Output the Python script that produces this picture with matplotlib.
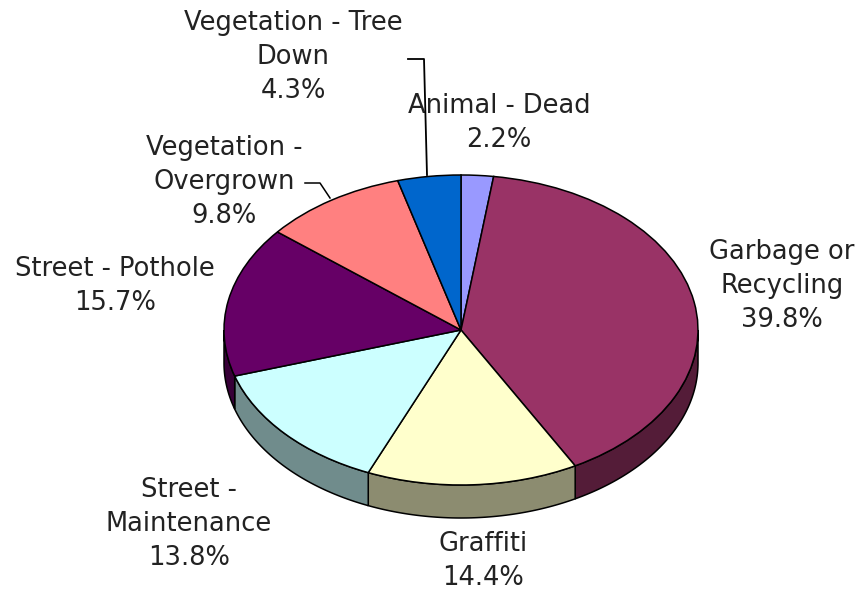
import numpy as np
import matplotlib
matplotlib.use("Agg")
import matplotlib.pyplot as plt
from matplotlib.patches import Polygon
from matplotlib.transforms import Affine2D
from matplotlib.colors import to_rgb

# ---- data ----
categories = ["Animal - Dead", "Garbage or\nRecycling", "Graffiti", "Street -\nMaintenance",
              "Street - Pothole", "Vegetation -\nOvergrown", "Vegetation - Tree\nDown"]
values = [2.2, 39.8, 14.4, 13.8, 15.7, 9.8, 4.3]
pct_labels = ["2.2%", "39.8%", "14.4%", "13.8%", "15.7%", "9.8%", "4.3%"]
colors = ["#9999FF", "#993366", "#FFFFCC", "#CCFFFF", "#660066", "#FF8080", "#0066CC"]

# ---- layout (pixel-like coordinates) ----
W, H = 860, 590
cx, cy = 461, 330
rx, ry = 237, 155
depth = 33
label_pos = [(499, 123), (782, 286), (483, 561), (189, 524), (115, 286), (224, 182), (293, 57)]
text_color = "#222222"

fig = plt.figure(figsize=(W / 100, H / 100), dpi=100)
ax = fig.add_axes([0, 0, 1, 1])

wedges, _ = ax.pie(values, startangle=90, counterclock=False, colors=colors,
                   wedgeprops=dict(edgecolor="black", linewidth=1.1))
ax.set_xlim(0, W)
ax.set_ylim(H, 0)
ax.set_aspect("auto")
ax.axis("off")

ell = Affine2D().scale(rx, -ry).translate(cx, cy) + ax.transData
for w in wedges:
    w.set_transform(ell)
    w.set_zorder(3)

# side walls (front half only)
for w, col in zip(wedges, colors):
    t1, t2 = w.theta1, w.theta2
    shade = tuple(c * 0.55 for c in to_rgb(col))
    for k in (-1, 0, 1):
        lo = max(t1, 180 + 360 * k)
        hi = min(t2, 360 + 360 * k)
        if hi - lo <= 0.01:
            continue
        t = np.radians(np.linspace(lo, hi, 80))
        xs = cx + rx * np.cos(t)
        ys = cy - ry * np.sin(t)
        pts = np.vstack([np.column_stack([xs, ys]),
                         np.column_stack([xs[::-1], ys[::-1] + depth])])
        ax.add_patch(Polygon(pts, closed=True, facecolor=shade, edgecolor="black",
                             linewidth=1.1, zorder=2))

# labels
for name, pct, (lx, ly) in zip(categories, pct_labels, label_pos):
    ax.text(lx, ly, f"{name}\n{pct}", ha="center", va="center", fontsize=18.5,
            family="DejaVu Sans", color=text_color, linespacing=1.38, zorder=4)

# leader lines
ax.plot([408, 424, 427], [59, 59, 175], color="black", lw=1.3, zorder=5)
ax.plot([305, 320, 330], [183, 183, 198], color="black", lw=1.1, zorder=5)

fig.savefig("out.png", dpi=100, facecolor="white")
